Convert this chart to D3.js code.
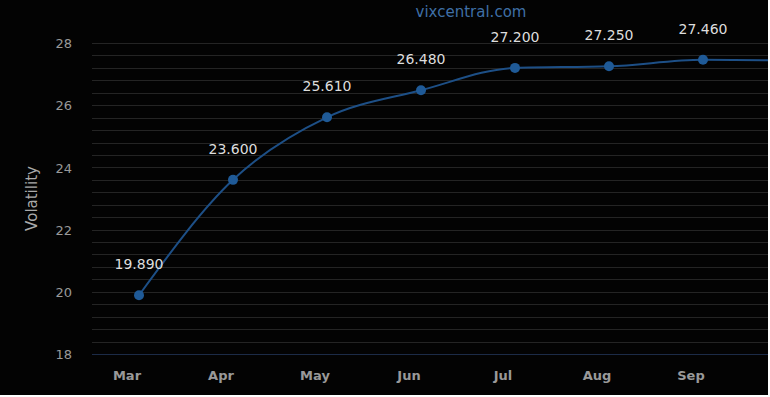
<!DOCTYPE html>
<html>
<head>
  <meta charset="UTF-8" />
  <title>VIX futures term structure</title>
  <style>
    body { margin: 0; background: #fff; }
    svg { display: block; }
  </style>
  <script src="https://d3js.org/d3.v7.min.js"></script>
</head>
<body>
<svg id="chart" width="770" height="397"></svg>
<script>
  // months on the x axis (Oct is past the right edge, only its line segment shows)
  const months = ['Mar', 'Apr', 'May', 'Jun', 'Jul', 'Aug', 'Sep', 'Oct'];
  const vols = [19.89, 23.6, 25.61, 26.48, 27.2, 27.25, 27.46, 27.44];
  const yTicks = [18, 20, 22, 24, 26, 28];

  const W = 768, H = 395;
  const plotLeft = 92, plotTop = 43, plotBottom = 354;
  const font = 'DejaVu Sans, Verdana, sans-serif';

  const svg = d3.select('#chart');
  svg.append('rect').attr('width', W).attr('height', H).attr('fill', '#030303');

  const x = d3.scaleBand().domain(months).range([plotLeft, plotLeft + 94 * months.length]);
  const y = d3.scaleLinear().domain([18, 28]).range([plotBottom, plotTop]);
  const cx = d => x(d) + x.bandwidth() / 2;
  const shown = months.filter(m => cx(m) < W);

  svg.append('defs').append('clipPath').attr('id', 'plot')
    .append('rect').attr('x', plotLeft).attr('y', 0).attr('width', W - plotLeft).attr('height', H);

  // grid, every 0.4
  const minor = d3.range(18, 28.01, 0.4);
  svg.append('g').selectAll('line').data(minor).join('line')
    .attr('x1', plotLeft).attr('x2', W)
    .attr('y1', d => Math.round(y(d)) + 0.5).attr('y2', d => Math.round(y(d)) + 0.5)
    .attr('stroke', '#242424')
    .attr('stroke-width', 1);

  svg.append('line')
    .attr('x1', plotLeft).attr('x2', W)
    .attr('y1', plotBottom + 0.5).attr('y2', plotBottom + 0.5)
    .attr('stroke', '#1c2b47');

  // y axis
  const yAxis = svg.append('g')
    .attr('transform', `translate(${plotLeft - 20},0)`)
    .call(d3.axisLeft(y).tickValues(yTicks).tickSize(0).tickPadding(0));
  yAxis.select('.domain').remove();
  yAxis.selectAll('text')
    .attr('fill', '#999')
    .attr('font-family', font)
    .attr('font-size', 13)
    .attr('dy', '0.36em');

  svg.append('text')
    .attr('transform', `translate(37,${(plotTop + plotBottom) / 2}) rotate(-90)`)
    .attr('text-anchor', 'middle')
    .attr('fill', '#aaa')
    .attr('font-family', font)
    .attr('font-size', 15)
    .text('Volatility');

  // x axis
  const xAxis = svg.append('g')
    .attr('transform', `translate(-12,${plotBottom + 26})`)
    .call(d3.axisBottom(x).tickValues(shown).tickSize(0).tickPadding(0));
  xAxis.select('.domain').remove();
  xAxis.selectAll('text')
    .attr('y', 0).attr('dy', 0)
    .attr('fill', '#999')
    .attr('font-family', font)
    .attr('font-weight', 'bold')
    .attr('font-size', 13);

  // title
  svg.append('text')
    .attr('x', 471).attr('y', 17)
    .attr('text-anchor', 'middle')
    .attr('fill', '#3f6fa6')
    .attr('font-family', font)
    .attr('font-size', 15)
    .text('vixcentral.com');

  const pts = months.map((m, i) => [cx(m), y(vols[i])]);

  const plot = svg.append('g').attr('clip-path', 'url(#plot)');

  plot.append('path')
    .datum(pts)
    .attr('fill', 'none')
    .attr('stroke', '#1d4f86')
    .attr('stroke-width', 2)
    .attr('d', d3.line().curve(d3.curveMonotoneX));

  plot.selectAll('circle').data(pts).join('circle')
    .attr('cx', d => d[0]).attr('cy', d => d[1])
    .attr('r', 5)
    .attr('fill', '#1f5a97');

  plot.selectAll('text.lbl').data(shown).join('text')
    .attr('class', 'lbl')
    .attr('x', (m) => cx(m))
    .attr('y', (m, i) => y(vols[i]) - 26)
    .attr('text-anchor', 'middle')
    .attr('fill', '#ddd')
    .attr('font-family', font)
    .attr('font-size', 14)
    .text((m, i) => vols[i].toFixed(3));
</script>
</body>
</html>
